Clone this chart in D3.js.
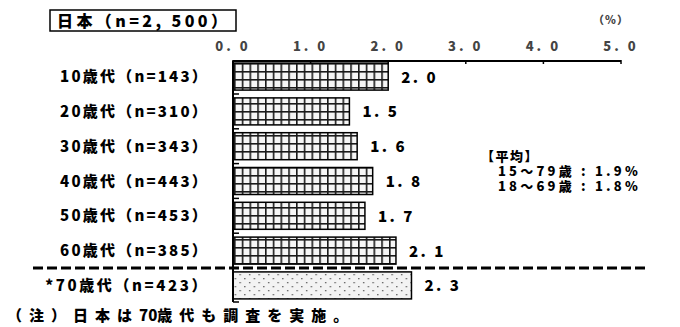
<!DOCTYPE html>
<meta charset="utf-8">
<style>
  body { margin: 0; background: #fff; }
  svg { display: block; }
  text { font-family: "Noto Sans CJK JP", "Noto Sans", sans-serif; font-weight: 900; fill: #000; }
  .tick-label { fill: #444; }
</style>
<body></body>
<script src="https://cdn.jsdelivr.net/npm/d3@7"></script>
<script>
// data
var categories = ["10歳代（n=143）", "20歳代（n=310）", "30歳代（n=343）", "40歳代（n=443）",
                  "50歳代（n=453）", "60歳代（n=385）", "*70歳代（n=423）"];
var values = [2.0, 1.5, 1.6, 1.8, 1.7, 2.1, 2.3];
var fills = ["grid", "grid", "grid", "grid", "grid", "grid", "dots"];
var tickValues = [0, 1, 2, 3, 4, 5];
var averageLines = ["【平均】", "15〜79歳 : 1.9%", "18〜69歳 : 1.8%"];
var footParts = ["（注）日本は", "70", "歳代も調査を実施。"];

var width = 680, height = 327;

var svg = d3.select("body").append("svg")
    .attr("width", width)
    .attr("height", height);

// patterns for the bars
var defs = svg.append("defs");
var grid = defs.append("pattern")
    .attr("id", "grid")
    .attr("patternUnits", "userSpaceOnUse")
    .attr("x", 234).attr("y", 63)
    .attr("width", 7.75).attr("height", 8);
grid.append("rect").attr("width", 7.75).attr("height", 8).attr("fill", "#f6f6f6");
grid.append("rect").attr("width", 1.6).attr("height", 8).attr("fill", "#1a1a1a");
grid.append("rect").attr("width", 7.75).attr("height", 1.6).attr("fill", "#1a1a1a");

var dots = defs.append("pattern")
    .attr("id", "dots")
    .attr("patternUnits", "userSpaceOnUse")
    .attr("width", 9.5).attr("height", 8);
dots.append("rect").attr("width", 9.5).attr("height", 8).attr("fill", "#f3f3f3");
dots.append("rect").attr("x", 2).attr("y", 2).attr("width", 1.3).attr("height", 1.3).attr("fill", "#555");
dots.append("rect").attr("x", 6.7).attr("y", 6).attr("width", 1.3).attr("height", 1.3).attr("fill", "#555");

var x = d3.scaleLinear().domain([0, 5]).range([233, 621]);
var y = d3.scaleBand().domain(categories).range([61, 301])
    .paddingInner(0.224).paddingOuter(0.06);

// title box
svg.append("rect")
    .attr("x", 50).attr("y", 10).attr("width", 186).attr("height", 21)
    .attr("fill", "none").attr("stroke", "#000").attr("stroke-width", 1.5);
svg.append("text")
    .attr("x", 57).attr("y", 26.5)
    .attr("font-size", 16)
    .attr("textLength", 170)
    .attr("lengthAdjust", "spacing")
    .text("日本（n=2, 500）");

svg.append("text")
    .attr("x", 593).attr("y", 24)
    .attr("font-size", 11)
    .attr("textLength", 35)
    .attr("lengthAdjust", "spacing")
    .attr("class", "tick-label")
    .text("（%）");

// top axis
var axisG = svg.append("g");
axisG.append("line")
    .attr("x1", x(0)).attr("x2", x(5)).attr("y1", 61).attr("y2", 61)
    .attr("stroke", "#000").attr("stroke-width", 2);
axisG.selectAll(".tk").data(tickValues).enter().append("line")
    .attr("x1", d => x(d)).attr("x2", d => x(d))
    .attr("y1", 60).attr("y2", 64)
    .attr("stroke", "#000").attr("stroke-width", 1.5);
axisG.selectAll(".tick-label").data(tickValues).enter().append("text")
    .attr("class", "tick-label")
    .attr("x", d => x(d)).attr("y", 51)
    .attr("text-anchor", "middle")
    .attr("font-size", 13)
    .attr("letter-spacing", 3)
    .text(d => d.toFixed(1).replace(".", ". "));

// bars
svg.selectAll(".bar").data(values).enter().append("rect")
    .attr("class", "bar")
    .attr("x", x(0))
    .attr("y", (d, i) => y(categories[i]))
    .attr("width", d => x(d) - x(0))
    .attr("height", y.bandwidth())
    .attr("fill", (d, i) => "url(#" + fills[i] + ")")
    .attr("stroke", "#000").attr("stroke-width", 1.5);

// value labels
svg.selectAll(".val").data(values).enter().append("text")
    .attr("x", d => x(d) + 13)
    .attr("y", (d, i) => y(categories[i]) + y.bandwidth() / 2 + 6)
    .attr("font-size", 15)
    .attr("letter-spacing", 2.5)
    .text(d => d.toFixed(1).replace(".", ". "));

// category labels
svg.selectAll(".cat").data(categories).enter().append("text")
    .attr("x", 209)
    .attr("y", d => y(d) + y.bandwidth() / 2 + 5.5)
    .attr("text-anchor", "end")
    .attr("font-size", 15)
    .attr("letter-spacing", (d, i) => i === 6 ? 2.6 : 2.2)
    .text(d => d);

// left axis
svg.append("line")
    .attr("x1", x(0)).attr("x2", x(0)).attr("y1", 61).attr("y2", 302)
    .attr("stroke", "#000").attr("stroke-width", 2);
var bounds = categories.slice(0, 5).map(c => y(c) + y.step() - (y.step() - y.bandwidth()) / 2);
bounds.push(302);
svg.selectAll(".ltk").data(bounds).enter().append("line")
    .attr("x1", x(0)).attr("x2", x(0) + 6)
    .attr("y1", d => d).attr("y2", d => d)
    .attr("stroke", "#000").attr("stroke-width", 1.5);

// dashed separator before the 70s row
var sepY = y(categories[6]) - (y.step() - y.bandwidth()) / 2;
svg.append("line")
    .attr("x1", 33).attr("x2", 648)
    .attr("y1", sepY).attr("y2", sepY)
    .attr("stroke", "#000").attr("stroke-width", 3)
    .attr("stroke-dasharray", "10,4");

// average note, one text block with three lines
svg.append("text")
    .attr("y", 161)
    .attr("font-size", 13)
    .attr("font-weight", "normal")
    .selectAll("tspan").data(averageLines).enter().append("tspan")
    .attr("x", (d, i) => i === 0 ? 481 : 498)
    .attr("dy", (d, i) => i === 0 ? 0 : 15)
    .attr("letter-spacing", (d, i) => i === 0 ? 1.5 : 3.2)
    .text(d => d);

// footnote
svg.append("text")
    .attr("x", 7).attr("y", 321)
    .attr("font-size", 15)
    .selectAll("tspan").data(footParts).enter().append("tspan")
    .attr("letter-spacing", (d, i) => i === 1 ? 0 : 7)
    .text(d => d);
</script>
